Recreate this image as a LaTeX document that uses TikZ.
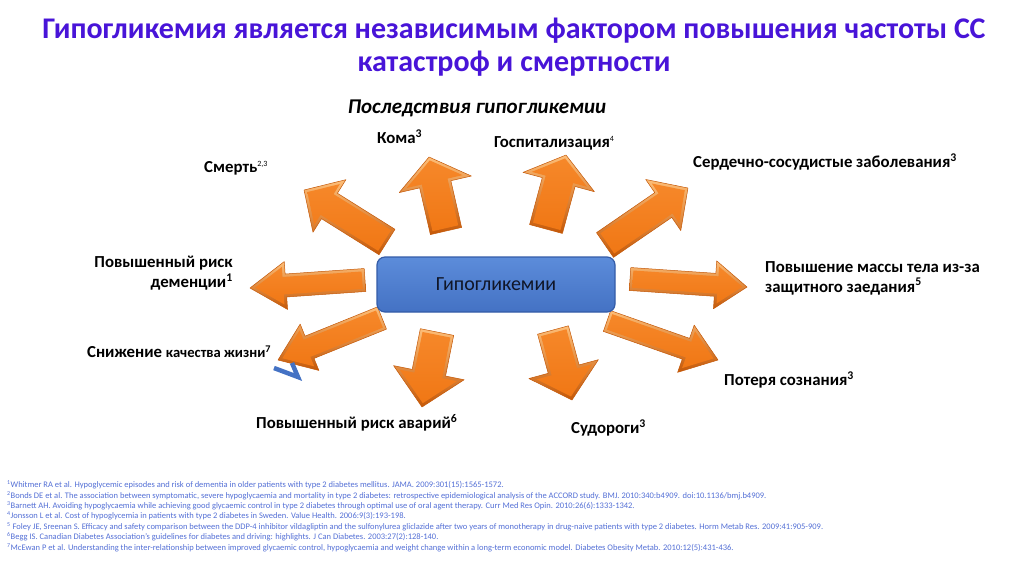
\documentclass[tikz,border=0pt]{standalone}
\usepackage{fontspec}
\setmainfont{Carlito}
\usetikzlibrary{calc}
\definecolor{titlecol}{RGB}{72,20,216}
\definecolor{refcol}{RGB}{84,112,214}
\definecolor{ormain}{RGB}{244,122,22}
\definecolor{orlight}{RGB}{253,190,120}
\definecolor{ordark}{RGB}{196,88,8}
\definecolor{boxtop}{RGB}{92,140,218}
\definecolor{boxbot}{RGB}{68,114,196}
\definecolor{boxedge}{RGB}{52,92,168}
\definecolor{vblue}{RGB}{68,114,196}
\newcommand\orarrow[8]{%
  \coordinate (#1-tail) at (#2,#3);
  \coordinate (#1-tip) at (#4,#5);
  \pgfmathsetmacro\oaL{veclen(#4-#2,#5-#3)}%
  \pgfmathsetmacro\oaA{atan2(#3-#5,#4-#2)}%
  \pgfmathsetmacro\oaB{\oaL-#8}%
  \pgfmathsetmacro\oaD{2.8}%
  \pgfmathsetmacro\oaS{sqrt(#8*#8+#7*#7)}%
  \pgfmathsetmacro\oaBi{\oaB+\oaD}%
  \pgfmathsetmacro\oaCi{#7-#7*\oaD/#8-\oaD*\oaS/#8}%
  \pgfmathsetmacro\oaTi{\oaL-\oaD*\oaS/#7}%
  \pgfmathsetmacro\oaWi{#6-\oaD}%
  \begin{scope}[shift={(#1-tail)}, rotate=\oaA, x=1pt, y=1pt]
    \shade[top color=orlight, bottom color=ordark, draw=ordark, line width=0.5pt, line join=round]
      (0,-#6) -- (\oaB,-#6) -- (\oaB,-#7) -- (\oaL,0) -- (\oaB,#7) -- (\oaB,#6) -- (0,#6) -- cycle;
    \shade[top color=ormain!80!orlight, bottom color=ormain!92!ordark]
      (\oaD,-\oaWi) -- (\oaBi,-\oaWi) -- (\oaBi,-\oaCi) -- (\oaTi,0) -- (\oaBi,\oaCi) -- (\oaBi,\oaWi) -- (\oaD,\oaWi) -- cycle;
  \end{scope}}
\tikzset{
  lbl/.style={font=\fontsize{16.8}{20}\selectfont\bfseries, inner sep=0pt, text=black},
  refline/.style={font=\fontsize{8.5}{10}\selectfont, text=refcol, anchor=west, inner sep=0pt},
  hbox/.style={draw=boxedge, line width=1.2pt, rounded corners=8pt, top color=boxtop, bottom color=boxbot,
    minimum width=238pt, minimum height=55pt, inner sep=0pt,
    font=\fontsize{20}{24}\selectfont, text={rgb,255:red,16;green,22;blue,40}},
}
\begin{document}
\begin{tikzpicture}[x=1pt,y=-1pt]
\useasboundingbox[fill=white] (0,0) rectangle (1024,574);
% title
\node[font=\fontsize{30}{33.5}\selectfont\bfseries, text=titlecol, align=center, inner sep=0pt] (title) at (514,47)
  {Гипогликемия является независимым фактором повышения частоты СС\\катастроф и смертности};
\node[font=\fontsize{21}{24}\selectfont\bfseries\itshape, inner sep=0pt] (sub) at (477,108) {Последствия гипогликемии};
% arrows
\orarrow{a1}{387}{242}{304}{190}{15}{31}{30}
\orarrow{a2}{446}{231}{429}{157}{16}{37}{28}
\orarrow{a3}{546}{229}{566}{155}{17}{37}{28}
\orarrow{a4}{605}{245}{688}{188}{15}{31}{30}
\orarrow{a5}{630}{279}{747}{287}{11.5}{24}{32}
\orarrow{a6}{607}{321}{718}{360}{11}{25}{34}
\orarrow{a7}{553}{330}{572}{400}{16}{36}{32}
\orarrow{a8}{437}{332}{422}{407}{17}{36}{35}
\orarrow{a9}{382}{318}{278}{360}{12}{25}{34}
\orarrow{a10}{365}{280}{250}{288}{11.5}{24}{36}
% blue fragment
\coordinate (v1) at (274,368);
\coordinate (v2) at (298,377);
\coordinate (v3) at (292,363);
\draw[vblue, line width=4.5pt, line join=miter] (v1) -- (v2) -- (v3);
% centre box
\node[hbox] (hypo) at (496,284.5) {Гипогликемии};
% labels
\node[lbl, anchor=west] (koma) at (377,137) {Кома\textsuperscript{3}};
\node[lbl, anchor=west] (death) at (204,168) {Смерть\textsuperscript{\mdseries\fontsize{8}{9}\selectfont 2,3}};
\node[lbl, anchor=west] (hosp) at (494,143) {Госпитализация\textsuperscript{\mdseries\fontsize{8}{9}\selectfont 4}};
\node[lbl, anchor=west] (cvd) at (693,162) {Сердечно-сосудистые заболевания\textsuperscript{3}};
\node[lbl, anchor=east, align=right] (dem) at (233,273) {Повышенный риск\\деменции\textsuperscript{1}};
\node[lbl, anchor=west] (qol) at (87,352) {Снижение {\fontsize{14.6}{16}\selectfont качества жизни\textsuperscript{7}}};
\node[lbl, anchor=west, align=left] (weight) at (765,278) {Повышение массы тела из-за\\защитного заедания\textsuperscript{5}};
\node[lbl, anchor=west] (loss) at (724,380) {Потеря сознания\textsuperscript{3}};
\node[lbl, anchor=west] (acc) at (256,423) {Повышенный риск аварий\textsuperscript{6}};
\node[lbl, anchor=west] (seiz) at (571,428) {Судороги\textsuperscript{3}};
% references
\node[refline] (r1) at (7,485) {\textsuperscript{1}Whitmer RA et al. Hypoglycemic episodes and risk of dementia in older patients with type 2 diabetes mellitus. JAMA. 2009:301(15):1565-1572.};
\node[refline] (r2) at (7,495.4) {\textsuperscript{2}Bonds DE et al. The association between symptomatic, severe hypoglycaemia and mortality in type 2 diabetes: retrospective epidemiological analysis of the ACCORD study. BMJ. 2010:340:b4909. doi:10.1136/bmj.b4909.};
\node[refline] (r3) at (7,505.8) {\textsuperscript{3}Barnett AH. Avoiding hypoglycaemia while achieving good glycaemic control in type 2 diabetes through optimal use of oral agent therapy. Curr Med Res Opin. 2010:26(6):1333-1342.};
\node[refline] (r4) at (7,516.2) {\textsuperscript{4}Jonsson L et al. Cost of hypoglycemia in patients with type 2 diabetes in Sweden. Value Health. 2006:9(3):193-198.};
\node[refline] (r5) at (7,526.6) {\textsuperscript{5} Foley JE, Sreenan S. Efficacy and safety comparison between the DDP-4 inhibitor vildagliptin and the sulfonylurea gliclazide after two years of monotherapy in drug-naive patients with type 2 diabetes. Horm Metab Res. 2009:41:905-909.};
\node[refline] (r6) at (7,537) {\textsuperscript{6}Begg IS. Canadian Diabetes Association’s guidelines for diabetes and driving: highlights. J Can Diabetes. 2003:27(2):128-140.};
\node[refline] (r7) at (7,547.4) {\textsuperscript{7}McEwan P et al. Understanding the inter-relationship between improved glycaemic control, hypoglycaemia and weight change within a long-term economic model. Diabetes Obesity Metab. 2010:12(5):431-436.};
\end{tikzpicture}
\end{document}
